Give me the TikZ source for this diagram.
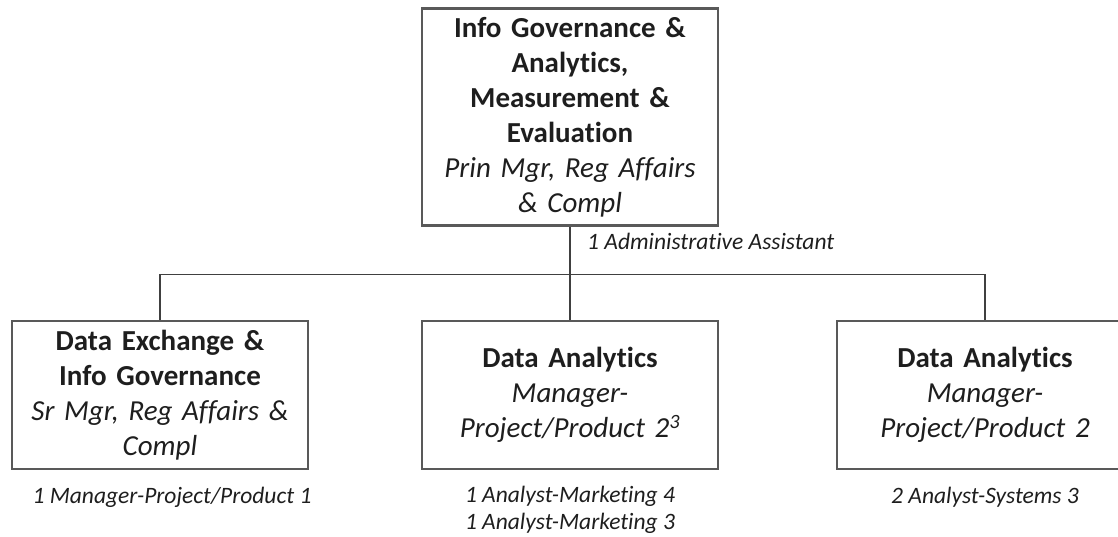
\documentclass[tikz,border=0pt]{standalone}
\usepackage{fontspec}
\setmainfont{Carlito}[Ligatures=NoCommon]
\usetikzlibrary{positioning}
\definecolor{framegray}{HTML}{595959}
\definecolor{linkgray}{HTML}{404040}
\definecolor{inkgray}{HTML}{1E1E1E}
\tikzset{unit/.style={draw=framegray,line width=2.6pt,align=center,text width=284pt,minimum width=296pt,inner sep=0pt,text=inkgray,font=\fontsize{29}{35}\selectfont}}
\tikzset{staff/.style={align=center,inner sep=0pt,text=inkgray,font=\fontsize{23.5}{26.5}\selectfont\itshape}}
\tikzset{link/.style={draw=linkgray,line width=1.3pt}}

\begin{document}
\begin{tikzpicture}[x=1pt,y=-1pt]
    \useasboundingbox (0,0) rectangle (1118,536);
    \clip (0,0) rectangle (1118,536);

    \node[unit, minimum height=217pt] (top) at (570,117)
        {\textbf{Info Governance \&}\\ \textbf{Analytics,}\\ \textbf{Measurement \&}\\ \textbf{Evaluation}\\ \textit{Prin Mgr, Reg Affairs}\\ \textit{\& Compl}};
    \node[unit, minimum height=148pt, on grid, below=278pt of top] (mid)
        {\textbf{Data Analytics}\\ \textit{Manager-}\\ \textit{Project/Product 2\textsuperscript{3}}};
    \node[unit, minimum height=148pt, on grid, left=410pt of mid] (left)
        {\textbf{Data Exchange \&}\\ \textbf{Info Governance}\\ \textit{Sr Mgr, Reg Affairs \&}\\ \textit{Compl}};
    \node[unit, minimum height=148pt, on grid, right=415pt of mid] (right)
        {\textbf{Data Analytics}\\ \textit{Manager-}\\ \textit{Project/Product 2}};

    \coordinate[on grid, below=48pt of top.south] (hub);
    \draw[link] (top.south) -- (hub);
    \draw[link] (left.north) |- (hub) -| (right.north);
    \draw[link] (hub) -- (mid.north);

    \node[staff, anchor=west] (admin) at ([xshift=17pt,yshift=-15pt]top.south) {1 Administrative Assistant};
    \node[staff, below=17pt of left, xshift=12pt] (leftstaff) {1 Manager-Project/Product 1};
    \node[staff, below=16pt of mid] (midstaff) {1 Analyst-Marketing 4\\ 1 Analyst-Marketing 3};
    \node[staff, below=17pt of right] (rightstaff) {2 Analyst-Systems 3};
\end{tikzpicture}
\end{document}
